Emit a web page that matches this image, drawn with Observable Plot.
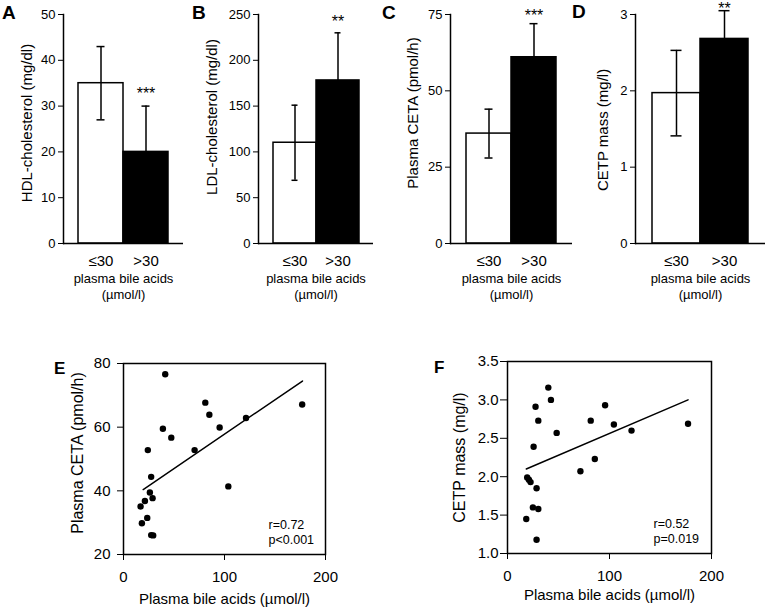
<!DOCTYPE html>
<html>
<head>
<meta charset="utf-8">
<script src="https://cdn.jsdelivr.net/npm/d3@7"></script>
<script src="https://cdn.jsdelivr.net/npm/@observablehq/plot@0.6"></script>
<style>
  html, body { margin: 0; padding: 0; background: white; }
  #fig { position: relative; width: 766px; height: 610px; font-family: "Liberation Sans", Arial, sans-serif; color: black; }
  .panel { position: absolute; }
  .letter { position: absolute; font-weight: bold; font-family: "Liberation Sans", Arial, sans-serif; line-height: 1; }
</style>
</head>
<body>
<div id="fig"></div>
<script>
// ---- Data ----
const groups = ["≤30", ">30"];
const hdlMean = [35, 20], hdlSD = [8, 10];
const ldlMean = [110, 178], ldlSD = [41, 52];
const cetaMean = [36, 61], cetaSD = [8, 11];
const cetpMean = [1.97, 2.68], cetpSD = [0.56, 0.37];
const starsA = "***", starsB = "**", starsC = "***", starsD = "**";

const ticksA = [0, 10, 20, 30, 40, 50];
const ticksB = [0, 50, 100, 150, 200, 250];
const ticksC = [0, 25, 50, 75];
const ticksD = [0, 1, 2, 3];

// Panel E: plasma bile acids vs plasma CETA
const bileE = [41.3, 81, 85, 176.9, 121.3, 95.2, 39, 47.3, 70.4, 24.1, 27.4, 103.8, 26.1, 21.2, 28.8, 16.9, 23.5, 18.2, 27.4, 29.4];
const cetaE = [76.6, 67.7, 63.9, 67.1, 62.9, 59.9, 59.5, 56.7, 52.8, 52.8, 44.4, 41.4, 39.5, 36.8, 37.7, 35.1, 31.5, 29.8, 26.1, 26.0];
const fitXE = [19.5, 177.2], fitYE = [40.4, 74.5];
const statE = "r=0.72\np<0.001";

// Panel F: plasma bile acids vs CETP mass
const bileF = [40, 42.6, 27.5, 30.2, 48.2, 25.6, 95.7, 81.6, 104.3, 121.6, 177, 85.6, 71.5, 19.3, 21, 22.6, 28.5, 24.9, 30.2, 18.4, 28.5];
const cetpF = [3.16, 3.0, 2.91, 2.73, 2.57, 2.39, 2.93, 2.73, 2.68, 2.60, 2.69, 2.23, 2.07, 1.99, 1.96, 1.93, 1.85, 1.60, 1.58, 1.45, 1.18];
const fitXF = [18.4, 177], fitYF = [2.10, 3.0];
const statF = "r=0.52\np=0.019";

const xTitleBar = ["plasma bile acids", "(µmol/l)"];
const xTitleScatter = "Plasma bile acids (µmol/l)";

// ---- Helpers ----
const FONT = "Liberation Sans, Arial, sans-serif";
const fig = document.getElementById("fig");

function place(node, left, top) {
  const d = document.createElement("div");
  d.className = "panel";
  d.style.left = left + "px";
  d.style.top = top + "px";
  d.appendChild(node);
  fig.appendChild(d);
}
function letter(txt, left, top, size) {
  const d = document.createElement("div");
  d.className = "letter";
  d.textContent = txt;
  d.style.left = left + "px";
  d.style.top = top + "px";
  d.style.fontSize = size + "px";
  fig.appendChild(d);
}

function barPanel(cfg) {
  const data = groups.map((g, i) => ({g, m: cfg.mean[i], sd: cfg.sd[i]}));
  const chart = Plot.plot({
    width: cfg.width, height: 305,
    marginLeft: cfg.mL, marginRight: cfg.mR, marginTop: 14, marginBottom: 62,
    style: {fontFamily: FONT, fontSize: "13px", color: "black", background: "transparent", overflow: "visible"},
    x: {domain: groups, paddingInner: 0, paddingOuter: 0.333, label: null},
    y: {domain: [0, cfg.max], ticks: cfg.ticks, label: null},
    marks: [
      Plot.barY(data, {x: "g", y: "m", fill: (d, i) => i === 0 ? "white" : "black", stroke: "black", strokeWidth: 1.5}),
      Plot.ruleX(data, {x: "g", y1: d => d.m - d.sd, y2: d => d.m + d.sd, stroke: "black", strokeWidth: 1.5}),
      Plot.tickY(data, {x: "g", y: d => d.m + d.sd, insetLeft: 18.5, insetRight: 18.5, stroke: "black", strokeWidth: 1.5}),
      Plot.tickY(data, {x: "g", y: d => d.m - d.sd, insetLeft: 18.5, insetRight: 18.5, stroke: "black", strokeWidth: 1.5}),
      Plot.text(data.filter((d, i) => i === 1), {x: "g", y: d => d.m + d.sd, text: () => cfg.stars, lineAnchor: "bottom", dy: cfg.starDy, fontSize: 16, fill: "black"}),
      Plot.ruleY([0], {stroke: "black", strokeWidth: 1.5}),
      Plot.frame({anchor: "left", stroke: "black", strokeWidth: 1.5}),
      Plot.axisY({ticks: cfg.ticks, tickSize: 5, tickPadding: 3, fontSize: 13, label: null, tickFormat: d => String(d), fill: "black"}),
      Plot.axisX({tickSize: 0, tickPadding: 12, fontSize: 15, label: null, fill: "black"}),
      Plot.text([xTitleBar[0]], {text: d => d, frameAnchor: "bottom", lineAnchor: "middle", dy: 35, fontSize: 13, fill: "black"}),
      Plot.text([xTitleBar[1]], {text: d => d, frameAnchor: "bottom", lineAnchor: "middle", dy: 51, fontSize: 13, fill: "black"}),
      Plot.text([cfg.ylabel], {text: d => d, frameAnchor: "left", textAnchor: "middle", lineAnchor: "middle", rotate: -90, dx: cfg.yLabDx, dy: cfg.yLabDy, fontSize: 15, fill: "black"})
    ]
  });
  place(chart, cfg.left, 0);
}

function scatterPanel(cfg) {
  const pts = cfg.xs.map((x, i) => ({x, y: cfg.ys[i]}));
  const fit = cfg.fitX.map((x, i) => ({x, y: cfg.fitY[i]}));
  const chart = Plot.plot({
    width: 383, height: 270,
    marginLeft: cfg.mL, marginRight: cfg.mR, marginTop: cfg.mT, marginBottom: cfg.mB,
    style: {fontFamily: FONT, fontSize: "15px", color: "black", background: "transparent", overflow: "visible"},
    x: {domain: [0, 200], ticks: [0, 100, 200], label: null},
    y: {domain: cfg.yDomain, ticks: cfg.yTicks, label: null, tickFormat: cfg.yFormat},
    marks: [
      Plot.frame({stroke: "black", strokeWidth: 1.5}),
      Plot.axisX({ticks: [0, 100, 200], tickSize: 6, tickPadding: 11, fontSize: 15, label: null, fill: "black"}),
      Plot.axisY({ticks: cfg.yTicks, tickSize: cfg.yTickSize, tickPadding: cfg.yTickPad, fontSize: 15, label: null, tickFormat: cfg.yFormat, fill: "black"}),
      Plot.line(fit, {x: "x", y: "y", stroke: "black", strokeWidth: 1.5}),
      Plot.dot(pts, {x: "x", y: "y", r: 3.2, fill: "black", stroke: "none"}),
      Plot.text([cfg.stat], {text: d => d, frameAnchor: "bottom-right", textAnchor: "start", lineAnchor: "bottom", lineHeight: 1.2, dx: cfg.statDx, dy: -11, fontSize: 12.5, fill: "black"}),
      Plot.text([xTitleScatter], {text: d => d, frameAnchor: "bottom", lineAnchor: "middle", dy: cfg.xLabDy, fontSize: 15, fill: "black"}),
      Plot.text([cfg.ylabel], {text: d => d, frameAnchor: "left", textAnchor: "middle", lineAnchor: "middle", rotate: -90, dx: cfg.yLabDx, dy: cfg.yLabDy, fontSize: 16, fill: "black"})
    ]
  });
  place(chart, cfg.left, 340);
}

// ---- Panels ----
barPanel({left: 0, width: 190, mL: 63, mR: 7, max: 50, ticks: ticksA, mean: hdlMean, sd: hdlSD, stars: starsA, starDy: -7, ylabel: "HDL-cholesterol (mg/dl)", yLabDx: -36, yLabDy: -6});
barPanel({left: 190, width: 190, mL: 68, mR: 7, max: 250, ticks: ticksB, mean: ldlMean, sd: ldlSD, stars: starsB, starDy: -6, ylabel: "LDL-cholesterol (mg/dl)", yLabDx: -46, yLabDy: -12});
barPanel({left: 380, width: 196, mL: 70, mR: 4, max: 75, ticks: ticksC, mean: cetaMean, sd: cetaSD, stars: starsC, starDy: -3, ylabel: "Plasma CETA (pmol/h)", yLabDx: -37, yLabDy: -16});
barPanel({left: 570, width: 196, mL: 65, mR: 1, max: 3, ticks: ticksD, mean: cetpMean, sd: cetpSD, stars: starsD, starDy: 3, ylabel: "CETP mass (mg/l)", yLabDx: -32, yLabDy: 1});

scatterPanel({left: 0, mL: 123, mR: 58, mT: 23, mB: 56, xs: bileE, ys: cetaE, fitX: fitXE, fitY: fitYE,
  yDomain: [20, 80], yTicks: [20, 40, 60, 80], yFormat: d => String(d), yTickSize: 6, yTickPad: 7,
  stat: statE, statDx: -57, xLabDy: 45, ylabel: "Plasma CETA (pmol/h)", yLabDx: -46, yLabDy: -6});
scatterPanel({left: 383, mL: 124, mR: 55, mT: 21, mB: 57, xs: bileF, ys: cetpF, fitX: fitXF, fitY: fitYF,
  yDomain: [1.0, 3.5], yTicks: [1.0, 1.5, 2.0, 2.5, 3.0, 3.5], yFormat: d3.format(".1f"), yTickSize: 7, yTickPad: 2,
  stat: statF, statDx: -58, xLabDy: 42, ylabel: "CETP mass (mg/l)", yLabDx: -48, yLabDy: 0});

letter("A", 2, 3, 19);
letter("B", 192, 3, 19);
letter("C", 382, 3, 19);
letter("D", 572, 2, 19);
letter("E", 54, 360, 17);
letter("F", 434, 359, 17);
</script>
</body>
</html>
